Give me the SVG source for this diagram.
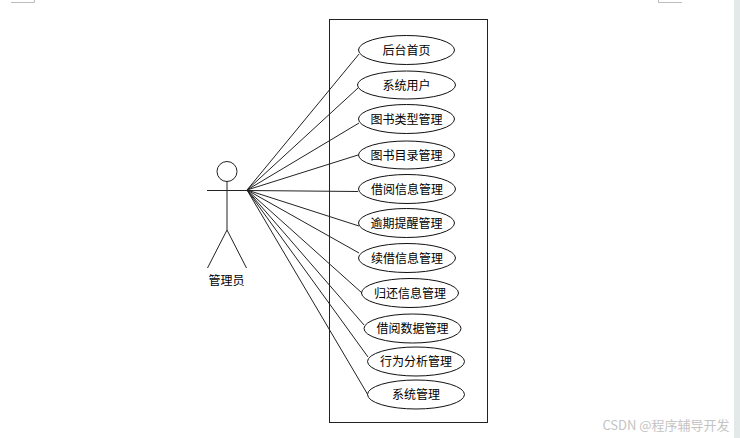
<svg xmlns="http://www.w3.org/2000/svg" width="740" height="438" viewBox="0 0 740 438">
<style>
.s{fill:none;stroke:#222;stroke-width:1}
.e{fill:#fff;stroke:#111;stroke-width:1}
.t{font-family:"Noto Sans CJK SC","Liberation Sans",sans-serif;font-size:12px;fill:#000;text-anchor:middle}
.m{fill:none;stroke:#bbb;stroke-width:1}
</style>
<rect width="740" height="438" fill="#fff"/>
<rect x="734" y="0" width="6" height="438" fill="#e3e9e9"/>
<path class="m" d="M11 2.500H34.500V0M658.500 0V2.500H682"/>
<rect id="boundary" class="s" x="329.500" y="19.500" width="158" height="403"/>
<g id="connectors" class="s">
<line x1="247" y1="190" x2="359" y2="54"/>
<line x1="247" y1="190" x2="358" y2="88"/>
<line x1="247" y1="190" x2="359" y2="123"/>
<line x1="247" y1="190" x2="358" y2="155"/>
<line x1="247" y1="190.500" x2="358" y2="191.500"/>
<line x1="247" y1="190" x2="359" y2="226"/>
<line x1="247" y1="190" x2="359" y2="253"/>
<line x1="247" y1="190" x2="362" y2="293"/>
<line x1="247" y1="190" x2="364" y2="325"/>
<line x1="247" y1="190" x2="368" y2="357"/>
<line x1="247" y1="190" x2="368" y2="395"/>
</g>
<g id="actor">
<circle class="s" cx="227" cy="171.500" r="10"/>
<path class="s" d="M207 190.500H247M227 181.500V230M227 230L207.500 268M227 230L246.500 268"/>
<text class="t" x="226.500" y="285">管理员</text>
</g>
<g id="uc1"><ellipse class="e" cx="406.500" cy="50" rx="48" ry="14.500"/><text class="t" x="406.500" y="54.500">后台首页</text></g>
<g id="uc2"><ellipse class="e" cx="406.500" cy="85" rx="49" ry="14"/><text class="t" x="406.500" y="89.500">系统用户</text></g>
<g id="uc3"><ellipse class="e" cx="406.500" cy="119" rx="48" ry="14.500"/><text class="t" x="406.500" y="123.500">图书类型管理</text></g>
<g id="uc4"><ellipse class="e" cx="406.500" cy="155" rx="48" ry="14"/><text class="t" x="406.500" y="159.500">图书目录管理</text></g>
<g id="uc5"><ellipse class="e" cx="407" cy="189" rx="48.500" ry="14.500"/><text class="t" x="407" y="193.500">借阅信息管理</text></g>
<g id="uc6"><ellipse class="e" cx="406.500" cy="223" rx="48" ry="14.500"/><text class="t" x="406.500" y="227.500">逾期提醒管理</text></g>
<g id="uc7"><ellipse class="e" cx="407" cy="258" rx="48.500" ry="14.500"/><text class="t" x="407" y="262.500">续借信息管理</text></g>
<g id="uc8"><ellipse class="e" cx="410" cy="293" rx="48.500" ry="14.500"/><text class="t" x="410" y="297.500">归还信息管理</text></g>
<g id="uc9"><ellipse class="e" cx="412.500" cy="328.500" rx="48.500" ry="14.500"/><text class="t" x="412.500" y="333">借阅数据管理</text></g>
<g id="uc10"><ellipse class="e" cx="416" cy="361.500" rx="48.500" ry="14.500"/><text class="t" x="416" y="366">行为分析管理</text></g>
<g id="uc11"><ellipse class="e" cx="416" cy="394.500" rx="48.500" ry="14.500"/><text class="t" x="416" y="399">系统管理</text></g>
<text x="666" y="429.500" font-family="'Noto Sans CJK SC','Liberation Sans',sans-serif" font-size="13" fill="#c4c4c4" text-anchor="middle">CSDN @程序辅导开发</text>
</svg>
